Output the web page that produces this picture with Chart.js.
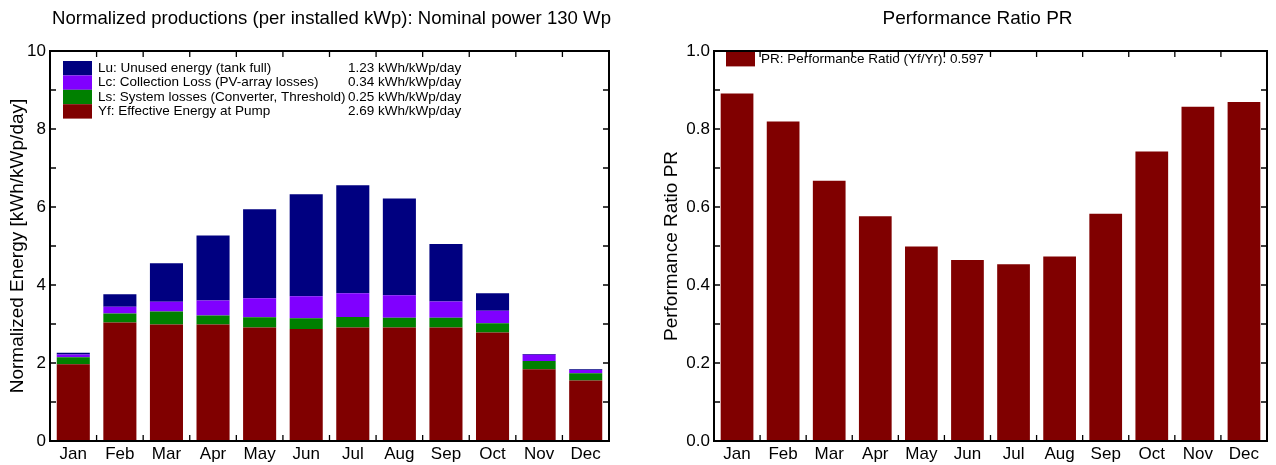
<!DOCTYPE html>
<html><head><meta charset="utf-8">
<script src="https://cdn.jsdelivr.net/npm/chart.js@4.4.0/dist/chart.umd.min.js"></script>
<style>
html,body{margin:0;padding:0;background:#fff;overflow:hidden}
#wrap{position:relative;width:1276px;height:465px}
.box{position:absolute;top:0;height:465px}
#b1{left:0;width:638px}
#b2{left:638px;width:638px}
</style></head><body>
<div id="wrap"><div class="box" id="b1"><canvas id="c1"></canvas></div><div class="box" id="b2"><canvas id="c2"></canvas></div></div>
<script>
const months = ['Jan','Feb','Mar','Apr','May','Jun','Jul','Aug','Sep','Oct','Nov','Dec'];
// stacked normalized energies [kWh/kWp/day]
const yfValues = [1.97, 3.04, 2.99, 2.99, 2.91, 2.87, 2.91, 2.91, 2.91, 2.78, 1.84, 1.55];
const lsValues = [0.18, 0.23, 0.33, 0.23, 0.26, 0.28, 0.27, 0.25, 0.25, 0.24, 0.21, 0.19];
const lcValues = [0.07, 0.17, 0.25, 0.38, 0.49, 0.56, 0.61, 0.58, 0.42, 0.32, 0.16, 0.08];
const luValues = [0.04, 0.32, 0.99, 1.67, 2.28, 2.62, 2.77, 2.48, 1.47, 0.45, 0.02, 0.02];
const energyLabels = ['Yf: Effective Energy at Pump', 'Ls: System losses (Converter, Threshold)', 'Lc: Collection Loss (PV-array losses)', 'Lu: Unused energy (tank full)'];
const energyLegendValues = ['2.69 kWh/kWp/day', '0.25 kWh/kWp/day', '0.34 kWh/kWp/day', '1.23 kWh/kWp/day'];
const energyTicks = [0, 2, 4, 6, 8, 10];
const energyMinorTicks = [1, 2, 3, 4, 5, 6, 7, 8, 9];
// performance ratio
const prValues = [0.891, 0.819, 0.667, 0.576, 0.499, 0.464, 0.453, 0.473, 0.583, 0.742, 0.857, 0.869];
const prLabel = 'PR: Performance Ratio (Yf/Yr): 0.597';
const prTicks = [0, 0.2, 0.4, 0.6, 0.8, 1.0];
const prMinorTicks = [0.1, 0.2, 0.3, 0.4, 0.5, 0.6, 0.7, 0.8, 0.9];

const FONT = "'Liberation Sans', Arial, sans-serif";
const C_YF = '#800000', C_LS = '#008000', C_LC = '#8000ff', C_LU = '#000080';

const framePlugin = {
  id: 'frame',
  afterLayout(chart, args, opts) {
    const t = chart.titleBlock;
    if (t && opts.titleShift) { t.left += opts.titleShift; t.right += opts.titleShift; }
  },
  afterDatasetsDraw(chart, args, opts) {
    const {ctx, chartArea: a, scales} = chart;
    const tl = 6;
    ctx.save();
    ctx.strokeStyle = '#000';
    ctx.lineWidth = 1.3;
    ctx.beginPath();
    opts.minor.forEach(v => {
      const y = scales.y.getPixelForValue(v);
      ctx.moveTo(a.left, y); ctx.lineTo(a.left + tl, y);
      ctx.moveTo(a.right, y); ctx.lineTo(a.right - tl, y);
    });
    const n = chart.data.labels.length;
    for (let i = 1; i < n; i++) {
      const x = (scales.x.getPixelForValue(i - 1) + scales.x.getPixelForValue(i)) / 2;
      ctx.moveTo(x, a.bottom); ctx.lineTo(x, a.bottom - tl);
      ctx.moveTo(x, a.top); ctx.lineTo(x, a.top + tl);
    }
    ctx.stroke();
    ctx.lineWidth = 2;
    ctx.strokeRect(a.left, a.top, a.right - a.left, a.bottom - a.top);
    ctx.restore();
  }
};

const innerLegend = {
  id: 'innerLegend',
  afterDraw(chart, args, opts) {
    const {ctx, chartArea: a} = chart;
    ctx.save();
    ctx.font = '13.5px ' + FONT;
    ctx.textBaseline = 'middle';
    ctx.textAlign = 'left';
    const items = chart.data.datasets.map((d, i) => ({label: d.label, color: d.backgroundColor, value: opts.values ? opts.values[i] : null})).reverse();
    items.forEach((it, k) => {
      const y0 = a.top + opts.dy + k * opts.rowH;
      ctx.fillStyle = it.color;
      ctx.fillRect(a.left + opts.dx, y0, opts.boxW, opts.boxH);
      ctx.fillStyle = '#000';
      ctx.fillText(it.label, a.left + opts.dx + opts.boxW + opts.gap, y0 + opts.rowH / 2);
      if (it.value) ctx.fillText(it.value, a.left + opts.valueX, y0 + opts.rowH / 2);
    });
    ctx.restore();
  }
};

const tickFont = {family: FONT, size: 17};
const axisTitleFont = {family: FONT, size: 19};
const titleFont = {family: FONT, size: 19, weight: 'normal'};

new Chart(document.getElementById('c1'), {
  type: 'bar',
  data: {
    labels: months,
    datasets: [
      {label: energyLabels[0], data: yfValues, backgroundColor: C_YF},
      {label: energyLabels[1], data: lsValues, backgroundColor: C_LS},
      {label: energyLabels[2], data: lcValues, backgroundColor: C_LC},
      {label: energyLabels[3], data: luValues, backgroundColor: C_LU}
    ]
  },
  options: {
    responsive: true, maintainAspectRatio: false, animation: false,
    layout: {padding: {left: 0, right: 29, top: 0, bottom: 0}},
    datasets: {bar: {categoryPercentage: 1, barPercentage: 0.71}},
    plugins: {
      legend: {display: false}, tooltip: {enabled: false},
      title: {display: true, fullSize: false, text: 'Normalized productions (per installed kWp): Nominal power 130 Wp', color: '#000', font: titleFont, padding: {top: 7.6, bottom: 20.6}},
      frame: {minor: energyMinorTicks, titleShift: 2},
      innerLegend: {values: energyLegendValues, dx: 13, dy: 10, rowH: 14.4, boxW: 29, boxH: 14.4, gap: 6, valueX: 298}
    },
    scales: {
      x: {stacked: true, grid: {display: false, drawTicks: false}, border: {display: false},
          ticks: {color: '#000', font: tickFont, padding: 3, maxRotation: 0, autoSkip: false},
          afterFit(s) { s.height = 24; }},
      y: {stacked: true, min: 0, max: 10, grid: {display: false, drawTicks: false}, border: {display: false},
          afterBuildTicks(s) { s.ticks = energyTicks.map(v => ({value: v})); },
          ticks: {color: '#000', font: tickFont, padding: 4},
          title: {display: true, text: 'Normalized Energy [kWh/kWp/day]', color: '#000', font: axisTitleFont, padding: {top: 6, bottom: 0}},
          afterFit(s) { s.width = 50; }}
    }
  },
  plugins: [framePlugin, innerLegend]
});

new Chart(document.getElementById('c2'), {
  type: 'bar',
  data: {
    labels: months,
    datasets: [{label: prLabel, data: prValues, backgroundColor: C_YF}]
  },
  options: {
    responsive: true, maintainAspectRatio: false, animation: false,
    layout: {padding: {left: 0, right: 9, top: 0, bottom: 0}},
    datasets: {bar: {categoryPercentage: 1, barPercentage: 0.71}},
    plugins: {
      legend: {display: false}, tooltip: {enabled: false},
      title: {display: true, fullSize: false, text: 'Performance Ratio PR', color: '#000', font: titleFont, padding: {top: 7.6, bottom: 20.6}},
      frame: {minor: prMinorTicks, titleShift: -13},
      innerLegend: {dx: 12, dy: 1, rowH: 14.4, boxW: 29, boxH: 14.4, gap: 6}
    },
    scales: {
      x: {grid: {display: false, drawTicks: false}, border: {display: false},
          ticks: {color: '#000', font: tickFont, padding: 3, maxRotation: 0, autoSkip: false},
          afterFit(s) { s.height = 24; }},
      y: {min: 0, max: 1, grid: {display: false, drawTicks: false}, border: {display: false},
          afterBuildTicks(s) { s.ticks = prTicks.map(v => ({value: v})); },
          ticks: {color: '#000', font: tickFont, padding: 4, callback: v => Number(v).toFixed(1)},
          title: {display: true, text: 'Performance Ratio PR', color: '#000', font: axisTitleFont, padding: {top: 22, bottom: 0}},
          afterFit(s) { s.width = 76; }}
    }
  },
  plugins: [framePlugin, innerLegend]
});
</script>
</body></html>
